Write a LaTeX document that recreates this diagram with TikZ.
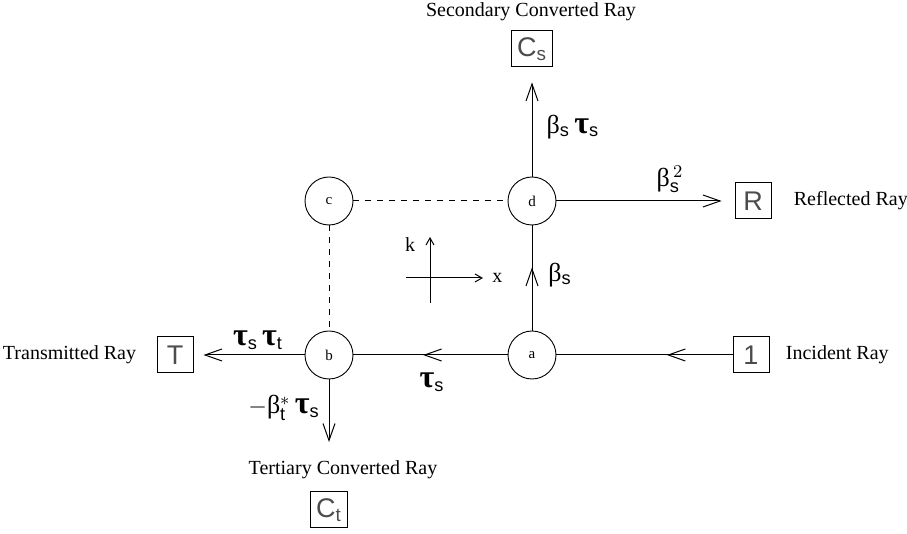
\documentclass[tikz,border=0pt]{standalone}
\usepackage{fontspec}
\setmainfont{Liberation Serif}
\setsansfont{Liberation Sans}
\usetikzlibrary{arrows.meta,positioning,decorations.markings}
\newcommand\btau{{\fontsize{16}{16}\selectfont\textbf{τ}}}

\begin{document}
\begin{tikzpicture}[
    x=0.5pt, y=-0.5pt,
    junction/.style={draw, circle, minimum size=24pt, inner sep=0pt,
                line width=0.45pt, font=\fontsize{7.5}{9}\selectfont},
    box/.style={draw, rectangle, minimum width=18pt, minimum height=18pt,
                inner xsep=3pt, inner ysep=1pt, line width=0.5pt,
                text=black!70, font=\fontsize{13.5}{16}\sffamily},
    caption/.style={font=\fontsize{10}{12}\selectfont, inner sep=0pt},
    coef/.style={font=\fontsize{13}{15}\selectfont, inner sep=0pt},
    ray/.style={-{Straight Barb[length=8.5pt, width=6pt]}, line width=0.5pt},
    midray/.style={line width=0.5pt, postaction={decorate},
                decoration={markings, mark=at position #1 with
                {\arrow{Straight Barb[length=8.5pt, width=6pt]}}}},
    axis/.style={-{Straight Barb[length=3.5pt, width=4pt]}, line width=0.5pt},
    link/.style={dashed, line width=0.5pt}
]
\useasboundingbox (0,0) rectangle (907,534);

% junctions
\node[junction] (a) at (532,355) {a};
\node[junction] (b) at (329,355) {b};
\node[junction] (c) at (329,201) {c};
\node[junction] (d) at (532,201) {d};

% rays
\node[box] (one) at (751,355) {1};
\node[box] (T) at (175,355) {T};
\node[box] (R) at (753,201) {R};
\node[box] (Cs) at (532,49) {C$_{\mathsf{s}}$};
\node[box] (Ct) at (329,510) {C$_{\mathsf{t}}$};
\coordinate (bout) at (329,442);

\node[caption, right=8pt of one] (inc) {Incident Ray};
\node[caption, right=11pt of R] (refl) {Reflected Ray};
\node[caption, left=10pt of T] (trans) {Transmitted Ray};
\node[caption] (sec) at (531,12) {Secondary Converted Ray};
\node[caption] (ter) at (343,470) {Tertiary Converted Ray};

\draw[midray=0.373] (one) -- (a);
\draw[midray=0.548] (a) -- (b);
\draw[midray=0.6] (a) -- (d);
\draw[ray, shorten >=5pt] (b) -- (T);
\draw[ray] (b) -- (bout);
\draw[ray, shorten >=7.5pt] (d) -- (Cs);
\draw[ray, shorten >=6.5pt] (d) -- (R);
\draw[link] (c) -- (d);
\draw[link] (c) -- (b);

% coefficients
\node[coef] (tst) at (258,340) {\btau$_{\mathsf{s}}$\,\btau$_{\mathsf{t}}$};
\node[coef] (bts) at (284,408) {$-$β$^{*}_{\mathsf{t}}$\,\btau$_{\mathsf{s}}$};
\node[coef] (ts) at (432,382) {\btau$_{\mathsf{s}}$};
\node[coef] (bs) at (560,275) {β$_{\mathsf{s}}$};
\node[coef] (bsts) at (573,127) {β$_{\mathsf{s}}$\,\btau$_{\mathsf{s}}$};
\node[coef] (bs2) at (670,179) {β$^{\,2}_{\mathsf{s}}$};

% axes
\coordinate (xl) at (406,278);
\coordinate (xr) at (483,278);
\coordinate (kb) at (430,303);
\coordinate (kt) at (430,237);
\draw[axis] (xl) -- (xr);
\draw[axis] (kb) -- (kt);
\node[caption, right=4.5pt of xr] (xlab) {x};
\node[caption] (klab) at (410,245) {k};
\end{tikzpicture}
\end{document}
